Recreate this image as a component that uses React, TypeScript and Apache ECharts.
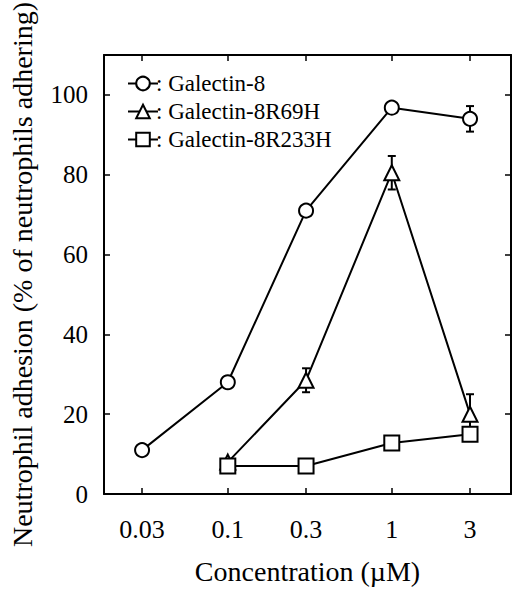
import React, { useEffect, useRef } from "react";
import * as echarts from "echarts";

const concentrations = [0.03, 0.1, 0.3, 1, 3];
const xTickLabels = ["0.03", "0.1", "0.3", "1", "3"];
const yTicks = [0, 20, 40, 60, 80, 100];

const seriesNames = ["Galectin-8", "Galectin-8R69H", "Galectin-8R233H"];
const galectin8 = [11, 28, 71, 96.8, 94];
const galectin8Err = [0, 0, 0, 0, 3.2];
const r69h = [null, 8, 28.5, 80.5, 20];
const r69hErr = [0, 0, 3, 4.2, 5];
const r233h = [null, 7, 7, 12.8, 15];
const r233hErr = [0, 0, 0, 0, 0];

const FONT = "'Liberation Serif', 'DejaVu Serif', serif";

export default function App() {
  const ref = useRef<HTMLDivElement>(null);
  useEffect(() => {
    if (!ref.current) return;
    const chart = echarts.init(ref.current, null, { renderer: "svg" });
    const logs = concentrations.map((c) => Math.log10(c));
    const labelFor = (v: number) => {
      for (let i = 0; i < logs.length; i++) {
        if (Math.abs(logs[i] - v) < 1e-6) return xTickLabels[i];
      }
      return "";
    };
    const toData = (vals: (number | null)[]) =>
      vals.map((v, i) => (v == null ? null : [logs[i], v])).filter((d) => d != null);
    const errData = (vals: (number | null)[], errs: number[]) =>
      vals
        .map((v, i) => (v == null || !errs[i] ? null : [logs[i], v - errs[i], v + errs[i]]))
        .filter((d) => d != null);

    const symbols = ["circle", "triangle", "rect"];
    const sizes = [14, 15, 15];
    const datasets = [galectin8, r69h, r233h];
    const errs = [galectin8Err, r69hErr, r233hErr];

    const lineSeries: any[] = datasets.map((vals, k) => ({
      name: seriesNames[k],
      type: "line",
      data: toData(vals),
      symbol: symbols[k],
      symbolSize: sizes[k],
      showAllSymbol: true,
      lineStyle: { color: "#000", width: 2 },
      itemStyle: { color: "#fff", borderColor: "#000", borderWidth: 2 },
      z: 3 + k,
    }));

    const errSeries: any[] = datasets.map((vals, k) => ({
      type: "custom",
      data: errData(vals, errs[k]),
      z: 2,
      silent: true,
      renderItem: (params: any, api: any) => {
        const x = api.value(0);
        const lo = api.coord([x, api.value(1)]);
        const hi = api.coord([x, api.value(2)]);
        const cap = 4;
        const st = { stroke: "#000", lineWidth: 2 };
        return {
          type: "group",
          children: [
            { type: "line", shape: { x1: lo[0], y1: lo[1], x2: hi[0], y2: hi[1] }, style: st },
            { type: "line", shape: { x1: lo[0] - cap, y1: lo[1], x2: lo[0] + cap, y2: lo[1] }, style: st },
            { type: "line", shape: { x1: hi[0] - cap, y1: hi[1], x2: hi[0] + cap, y2: hi[1] }, style: st },
          ],
        };
      },
    }));

    const xMin = -1.755;
    const xMax = 0.727;
    const axisLineStyle = { onZero: false, lineStyle: { color: "#000", width: 2 } };
    const tickStyle = { color: "#000", width: 1.5 };

    chart.setOption({
      animation: false,
      backgroundColor: "#fff",
      grid: { left: 104, top: 55, right: 1, bottom: 95, outerBoundsMode: "none", containLabel: false },
      legend: {
        data: seriesNames,
        orient: "vertical",
        left: 122,
        top: 67,
        itemWidth: 30,
        itemHeight: 17,
        itemGap: 5,
        formatter: ": {name}",
        textStyle: { fontFamily: FONT, fontSize: 23, color: "#000", padding: [0, 0, 0, -7] },
        selectedMode: false,
      },
      xAxis: [
        {
          type: "value",
          min: xMin,
          max: xMax,
          name: "Concentration (\u00b5M)",
          nameLocation: "middle",
          nameGap: 63,
          nameTextStyle: { fontFamily: FONT, fontSize: 28, color: "#000" },
          axisLine: axisLineStyle,
          axisTick: { inside: true, length: 6, lineStyle: tickStyle, customValues: logs },
          axisLabel: {
            customValues: logs,
            formatter: (v: number) => labelFor(v),
            fontFamily: FONT,
            fontSize: 26,
            color: "#000",
            margin: 22,
          },
          splitLine: { show: false },
        },
        {
          type: "value",
          position: "top",
          min: xMin,
          max: xMax,
          axisLine: axisLineStyle,
          axisTick: { inside: true, length: 6, lineStyle: tickStyle, customValues: logs },
          axisLabel: { show: false },
          splitLine: { show: false },
        },
      ],
      yAxis: [
        {
          type: "value",
          min: 0,
          max: 110,
          interval: 20,
          name: "Neutrophil adhesion (% of neutrophils adhering)",
          nameLocation: "middle",
          nameGap: 68,
          nameTextStyle: { fontFamily: FONT, fontSize: 28, color: "#000" },
          axisLine: axisLineStyle,
          axisTick: { inside: true, length: 6, lineStyle: tickStyle, customValues: yTicks },
          axisLabel: { customValues: yTicks, fontFamily: FONT, fontSize: 25, color: "#000", margin: 16 },
          splitLine: { show: false },
        },
        {
          type: "value",
          position: "right",
          min: 0,
          max: 110,
          interval: 20,
          axisLine: axisLineStyle,
          axisTick: { inside: true, length: 6, lineStyle: tickStyle, customValues: yTicks },
          axisLabel: { show: false },
          splitLine: { show: false },
        },
      ],
      series: [...errSeries, ...lineSeries],
    });
    return () => chart.dispose();
  }, []);
  return <div ref={ref} style={{ width: 512, height: 589, position: "absolute", left: 0, top: 0 }} />;
}
